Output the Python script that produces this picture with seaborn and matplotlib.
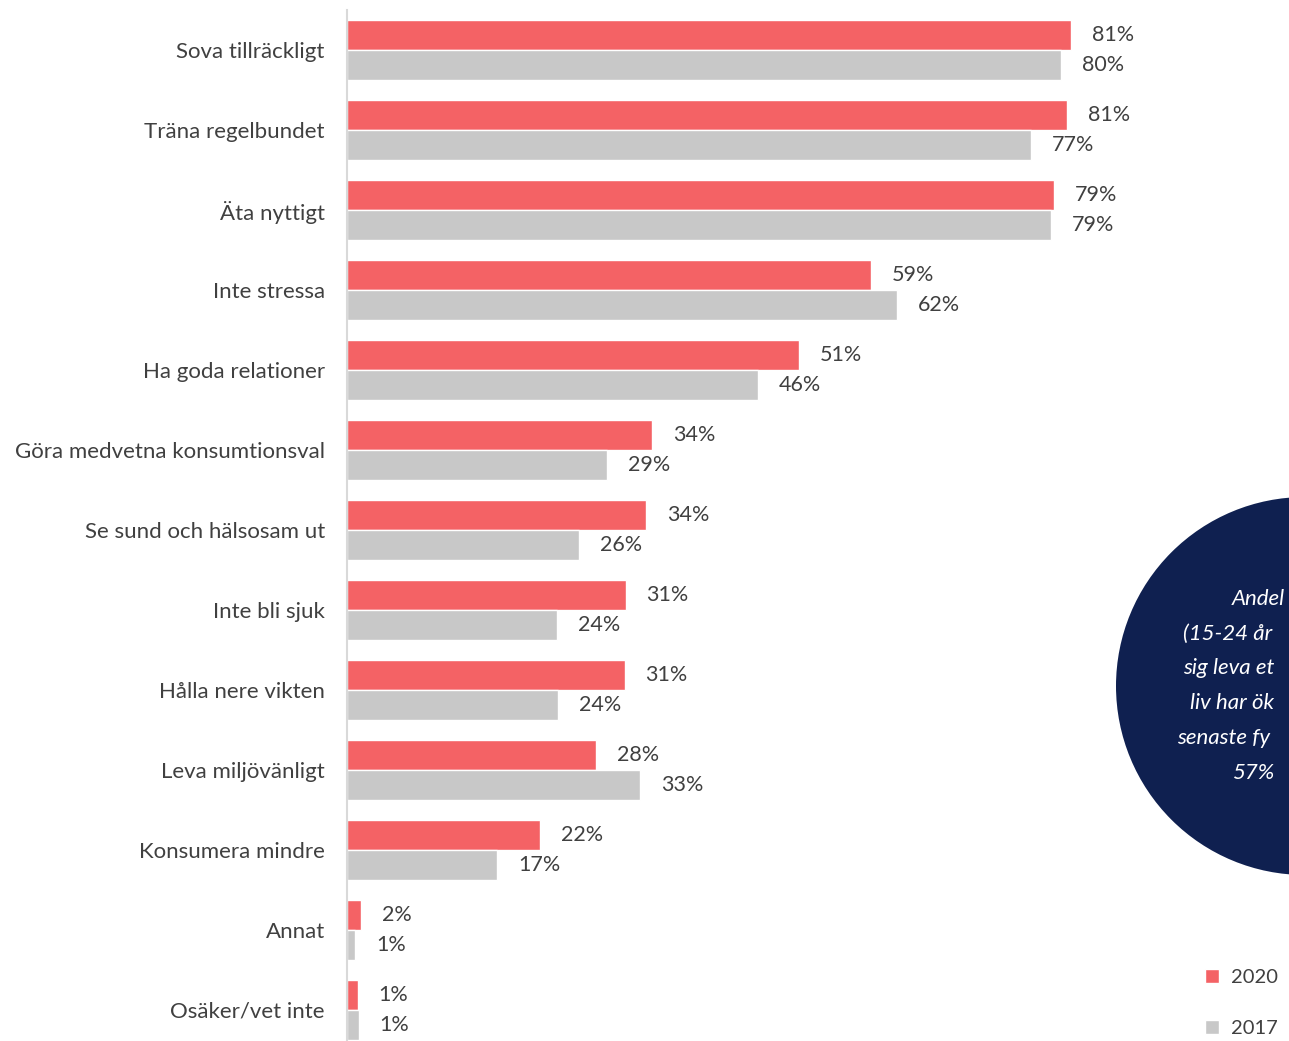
import matplotlib
matplotlib.use("Agg")
import matplotlib.pyplot as plt
from matplotlib.patches import Ellipse
import seaborn as sns
import pandas as pd

categories = [
    "Sova tillräckligt", "Träna regelbundet", "Äta nyttigt", "Inte stressa",
    "Ha goda relationer", "Göra medvetna konsumtionsval", "Se sund och hälsosam ut",
    "Inte bli sjuk", "Hålla nere vikten", "Leva miljövänligt", "Konsumera mindre",
    "Annat", "Osäker/vet inte",
]
values_2020 = [81.1, 80.6, 79.2, 58.7, 50.6, 34.2, 33.5, 31.2, 31.1, 27.9, 21.6, 1.6, 1.2]
values_2017 = [80.0, 76.6, 78.8, 61.6, 46.0, 29.1, 26.0, 23.5, 23.6, 32.8, 16.8, 0.9, 1.3]
series = ["2020", "2017"]
circle_lines = ["Andel", "(15-24 år", "sig leva et", "liv har ök", "senaste fy", "57%"]

df = pd.DataFrame({
    "kategori": categories * 2,
    "andel": values_2020 + values_2017,
    "år": ["2020"] * len(categories) + ["2017"] * len(categories),
})

sns.set_theme(style="white")
plt.rcParams["font.family"] = ["Lato", "DejaVu Sans"]

W, H = 1289, 1041
fig = plt.figure(figsize=(W / 100, H / 100), dpi=100)
ax = fig.add_axes([347 / W, -9 / H, (W - 347) / W, 1040 / H])

palette = {"2020": "#F46265", "2017": "#C8C8C8"}
sns.barplot(data=df, y="kategori", x="andel", hue="år", hue_order=series,
            order=categories, palette=palette, width=0.75, orient="h",
            saturation=1, ax=ax, legend=True)

ax.set_xlim(0, (W - 347) / 8.93)
ax.set_ylim(12.5, -0.5)
ax.set_xlabel("")
ax.set_ylabel("")
ax.set_xticks([])
ax.tick_params(axis="y", length=0, pad=16, labelsize=16, labelcolor="#404040")
for s in ["top", "right", "bottom"]:
    ax.spines[s].set_visible(False)
ax.spines["left"].set_color("#D9D9D9")
ax.spines["left"].set_linewidth(1.5)

for cont in ax.containers:
    labels = [f"{round(b.get_width()):d}%" for b in cont]
    ax.bar_label(cont, labels=labels, padding=15, fontsize=15.5, color="#404040")

# legend
handles, labels = ax.get_legend_handles_labels()
ax.legend(handles, labels, loc="center left",
          bbox_to_anchor=(1195 / W, 1 - 1003 / H), bbox_transform=fig.transFigure,
          frameon=False, borderpad=0, handlelength=0.7, handleheight=0.7,
          labelspacing=1.7, handletextpad=0.6, fontsize=14.5, labelcolor="#404040")

# navy circle with text
circ = Ellipse((1305 / W, 1 - 686 / H), 378 / W, 378 / H, transform=fig.transFigure,
               facecolor="#0F2050", edgecolor="none", zorder=5)
fig.patches.append(circ)
line_pos = [(1232, 599), (1183, 634), (1183, 668), (1190, 703), (1177, 738), (1232, 773)]
for txt, (x, y) in zip(circle_lines, line_pos):
    fig.text(x / W, 1 - y / H, txt, ha="left", va="center", color="white",
             fontsize=16, style="italic", zorder=6)

fig.savefig("out.png", dpi=100)
